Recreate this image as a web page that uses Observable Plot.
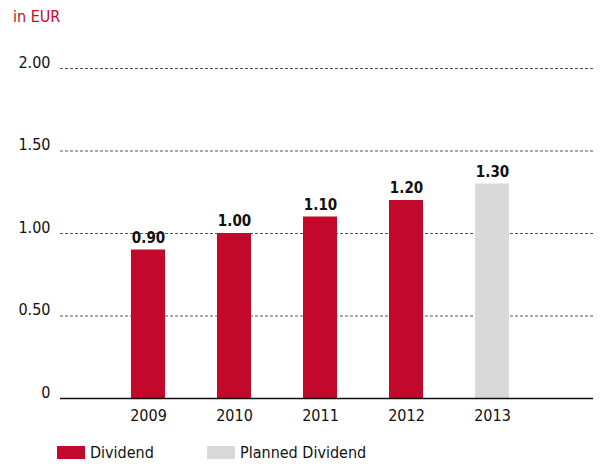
<!DOCTYPE html>
<html>
<head>
<meta charset="utf-8">
<script src="https://cdn.jsdelivr.net/npm/d3@7"></script>
<script src="https://cdn.jsdelivr.net/npm/@observablehq/plot@0.6"></script>
<style>
  html, body { margin: 0; padding: 0; background: #fff; }
  #wrap { position: relative; width: 601px; height: 466px; font-family: "Liberation Sans Narrow", "DejaVu Sans Condensed", "Liberation Sans", sans-serif; }
  #unit { position: absolute; left: 13px; top: 7px; font-size: 16px; color: #c4082c; }
  #legend { position: absolute; left: 57px; top: 443px; display: flex; font-size: 16px; color: #111; }
  .item { display: flex; align-items: center; margin-right: 0; }
  .sw { width: 28px; height: 13px; margin-right: 5px; }
</style>
</head>
<body>
<div id="wrap">
  <div id="chart"></div>
  <div id="unit">in EUR</div>
  <div id="legend"></div>
</div>
<script>
const years = ["2009", "2010", "2011", "2012", "2013"];
const dividends = [0.90, 1.00, 1.10, 1.20, 1.30];
const types = ["Dividend", "Dividend", "Dividend", "Dividend", "Planned Dividend"];
const seriesNames = ["Dividend", "Planned Dividend"];
const seriesColors = ["#c2082b", "#d9d9d9"];
const yTicks = [0, 0.5, 1, 1.5, 2];
const gridTicks = [0.5, 1, 1.5, 2];

const data = years.map((y, i) => ({year: y, value: dividends[i], type: types[i]}));
const font = '"Liberation Sans Narrow", "DejaVu Sans Condensed", "Liberation Sans", sans-serif';

const chart = Plot.plot({
  width: 601,
  height: 466,
  marginLeft: 77,
  marginRight: 39,
  marginTop: 68,
  marginBottom: 68,
  style: {fontFamily: font, fontSize: "16px", color: "#111", background: "#fff"},
  x: {domain: years, padding: 0.61, label: null},
  y: {domain: [0, 2], label: null},
  color: {domain: seriesNames, range: seriesColors},
  marks: [
    Plot.ruleY(gridTicks, {stroke: "#555", strokeDasharray: "3,2", strokeWidth: 1, insetLeft: -17, insetRight: -31}),
    Plot.barY(data, {x: "year", y: "value", fill: "type"}),
    Plot.ruleY([0], {stroke: "#111", strokeWidth: 1.5, insetLeft: -17, insetRight: -31}),
    Plot.text(data, {x: "year", y: "value", text: d => d.value.toFixed(2), dy: -12, fontWeight: "bold", fontSize: 15, fill: "#111"}),
    Plot.axisY({ticks: yTicks, tickSize: 0, tickPadding: 27, dy: -6, fontSize: 16, tickFormat: d => d === 0 ? "0" : d.toFixed(2), label: null}),
    Plot.axisX({tickSize: 0, tickPadding: 11, fontSize: 16, label: null})
  ]
});
document.getElementById("chart").appendChild(chart);

const legend = document.getElementById("legend");
seriesNames.forEach((name, i) => {
  const item = document.createElement("div");
  item.className = "item";
  item.style.width = i === 0 ? "150px" : "auto";
  const sw = document.createElement("div");
  sw.className = "sw";
  sw.style.background = seriesColors[i];
  const label = document.createElement("span");
  label.textContent = name;
  item.appendChild(sw);
  item.appendChild(label);
  legend.appendChild(item);
});
</script>
</body>
</html>
